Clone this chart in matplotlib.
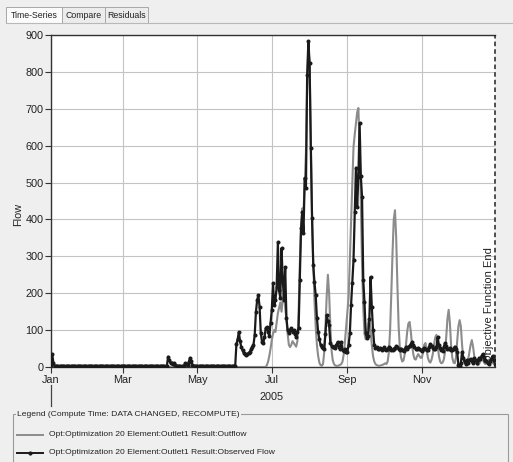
import numpy as np
import pandas as pd
import matplotlib
matplotlib.use("Agg")
import matplotlib.pyplot as plt
import matplotlib.dates as mdates
from matplotlib.patches import Rectangle
from matplotlib.lines import Line2D

plt.rcParams["font.family"] = ["Liberation Sans", "DejaVu Sans"]

dates = pd.date_range("2005-01-01", "2005-12-31", freq="D")

# observed flow, one value per day, month by month
obs_jan = [5, 35, 10, 3, 2, 2, 2, 2, 2, 2, 2, 2, 2, 2, 2, 2, 2, 2, 2, 2, 2, 2, 2, 2, 2, 2, 2, 2, 2, 2, 2]
obs_feb = [2, 2, 2, 2, 2, 2, 2, 2, 2, 2, 2, 2, 2, 2, 2, 2, 2, 2, 2, 2, 2, 2, 2, 2, 2, 2, 2, 2]
obs_mar = [2, 2, 2, 2, 2, 2, 2, 2, 2, 2, 2, 2, 2, 2, 2, 2, 2, 2, 2, 2, 2, 2, 2, 2, 2, 2, 2, 2, 2, 2, 2]
obs_apr = [2, 2, 2, 2, 2, 3, 28, 18, 10, 12, 8, 10, 6, 3, 2, 2, 2, 2, 2, 2, 10, 8, 5, 14, 25, 15, 6, 3, 2, 2]
obs_may = [2, 2, 2, 2, 2, 2, 2, 2, 2, 2, 2, 2, 2, 2, 2, 2, 2, 2, 2, 2, 2, 2, 2, 2, 2, 2, 2, 2, 2, 2, 2]
obs_jun = [2, 62, 75, 95, 70, 54, 45, 38, 36, 33, 35, 38, 41, 48, 54,
           60, 87, 149, 181, 195, 163, 92, 68, 65, 80, 105, 108, 95, 85, 120]
obs_jul = [154, 227, 168, 181, 217, 338, 208, 187, 322, 236, 181, 271, 133, 100, 92, 100,
           105, 95, 100, 90, 81, 95, 105, 236, 376, 420, 363, 512, 485, 791, 883]
obs_aug = [824, 593, 404, 276, 230, 195, 133, 95, 75, 60, 55, 51, 50, 90, 141, 125,
           114, 65, 58, 54, 55, 52, 60, 68, 55, 50, 68, 46, 44, 48, 41]
obs_sep = [41, 60, 92, 168, 228, 290, 420, 540, 434, 515, 661, 518, 461, 236, 176,
           92, 79, 85, 130, 244, 163, 100, 60, 51, 54, 50, 48, 52, 47, 50]
obs_oct = [53, 49, 46, 48, 55, 52, 47, 45, 50, 52, 56, 54, 48, 45, 50, 47,
           44, 48, 53, 50, 55, 58, 62, 68, 60, 55, 50, 48, 52, 50, 46]
obs_nov = [44, 48, 52, 50, 47, 45, 55, 62, 58, 52, 48, 50, 53, 81, 60,
           52, 46, 44, 55, 65, 58, 50, 48, 52, 47, 45, 50, 55, 48, 42]
obs_dec = [5, 3, 10, 41, 25, 15, 8, 19, 12, 18, 22, 15, 10, 24, 20, 12,
           18, 25, 22, 30, 35, 28, 20, 15, 11, 8, 15, 22, 30, 18, 8]

# simulated outflow
out_jan = [0, 0, 0, 0, 0, 0, 0, 0, 0, 0, 0, 0, 0, 0, 0, 0, 0, 0, 0, 0, 0, 0, 0, 0, 0, 0, 0, 0, 0, 0, 0]
out_feb = [0, 0, 0, 0, 0, 0, 0, 0, 0, 0, 0, 0, 0, 0, 0, 0, 0, 0, 0, 0, 0, 0, 0, 0, 0, 0, 0, 0]
out_mar = [0, 0, 0, 0, 0, 0, 0, 0, 0, 0, 0, 0, 0, 0, 0, 0, 0, 0, 0, 0, 0, 0, 0, 0, 0, 0, 0, 0, 0, 0, 0]
out_apr = [0, 0, 0, 0, 0, 0, 0, 0, 0, 0, 0, 0, 0, 0, 0, 0, 0, 0, 0, 0, 0, 0, 0, 0, 0, 0, 0, 0, 0, 0]
out_may = [0, 0, 0, 0, 0, 0, 0, 0, 0, 0, 0, 0, 0, 0, 0, 0, 0, 0, 0, 0, 0, 0, 0, 0, 0, 0, 0, 0, 0, 0, 0]
out_jun = [0, 0, 0, 0, 0, 0, 0, 0, 0, 0, 0, 0, 0, 0, 0,
           0, 0, 0, 0, 0, 0, 0, 0, 0, 0, 0, 5, 15, 30, 50]
out_jul = [73, 90, 100, 95, 120, 146, 160, 175, 150, 185, 200, 160, 130, 90, 60, 54,
           60, 70, 65, 60, 55, 70, 150, 280, 380, 430, 420, 500, 580, 760, 870]
out_aug = [820, 620, 420, 280, 180, 110, 60, 30, 12, 5, 3, 8, 40, 110, 190, 250,
           200, 110, 45, 18, 8, 4, 3, 3, 4, 6, 8, 15, 35, 70, 110]
out_sep = [150, 190, 290, 390, 490, 596, 630, 660, 690, 702, 600, 450, 280, 160, 90,
           75, 90, 120, 130, 100, 60, 30, 15, 8, 5, 4, 3, 4, 5, 6]
out_oct = [8, 10, 8, 15, 40, 100, 200, 310, 400, 425, 350, 220, 110, 50, 25, 15,
           18, 35, 60, 95, 118, 122, 95, 60, 35, 22, 20, 28, 35, 30, 25]
out_nov = [25, 40, 60, 65, 45, 25, 15, 12, 20, 35, 60, 80, 87, 60, 30,
           15, 10, 12, 20, 40, 80, 130, 155, 120, 60, 25, 12, 10, 25, 70]
out_dec = [110, 127, 110, 60, 25, 12, 8, 15, 20, 40, 60, 73, 55, 30, 15, 8,
           5, 8, 15, 25, 20, 12, 8, 10, 15, 20, 18, 12, 10, 15, 20]

observed = (obs_jan + obs_feb + obs_mar + obs_apr + obs_may + obs_jun
            + obs_jul + obs_aug + obs_sep + obs_oct + obs_nov + obs_dec)
outflow = (out_jan + out_feb + out_mar + out_apr + out_may + out_jun
           + out_jul + out_aug + out_sep + out_oct + out_nov + out_dec)

y_ticks = [0, 100, 200, 300, 400, 500, 600, 700, 800, 900]
name_out = "Opt:Optimization 20 Element:Outlet1 Result:Outflow"
name_obs = "Opt:Optimization 20 Element:Outlet1 Result:Observed Flow"
legend_title = "Legend (Compute Time: DATA CHANGED, RECOMPUTE)"

W, H = 513, 462
fig = plt.figure(figsize=(W / 100, H / 100), dpi=100)
fig.patch.set_facecolor("#efefef")

def fx(x):
    return x / W

def fy(y):
    return 1 - y / H

# tab strip
fig.add_artist(Line2D([fx(6), fx(513)], [fy(23), fy(23)], color="#b8b8b8", lw=0.8))
tabs = [("Time-Series", 6, 62, "#fbfbfb"), ("Compare", 62, 105, "#ececec"), ("Residuals", 105, 148, "#ececec")]
for label, x0, x1, fc in tabs:
    fig.add_artist(Rectangle((fx(x0), fy(23)), fx(x1 - x0), (23 - 7) / H,
                             facecolor=fc, edgecolor="#a8a8a8", lw=0.7))
    fig.text(fx((x0 + x1) / 2), fy(15.5), label, ha="center", va="center", fontsize=6.3, color="#222222")

ax = fig.add_axes([fx(51), fy(367), fx(495 - 51), (367 - 35) / H])
ax.set_facecolor("white")

ax.plot(dates, outflow, color="#8c8c8c", lw=1.5, zorder=3)
ax.plot(dates, observed, color="#1a1a1a", lw=1.6, marker="o", markersize=1.9, zorder=4)

ax.set_xlim(pd.Timestamp("2005-01-01"), pd.Timestamp("2005-12-31"))
ax.set_ylim(0, 900)
ax.set_yticks(y_ticks)
ax.xaxis.set_major_locator(mdates.MonthLocator(bymonth=[1, 3, 5, 7, 9, 11]))
ax.xaxis.set_major_formatter(mdates.DateFormatter("%b"))
ax.tick_params(direction="out", length=4, width=0.8, color="#333333", labelsize=7.8,
               labelcolor="#222222", pad=1.5)
ax.grid(True, color="#c4c4c4", lw=0.8)
ax.set_axisbelow(True)
for side in ["left", "bottom", "top"]:
    ax.spines[side].set_color("#333333")
    ax.spines[side].set_linewidth(1.0)
ax.spines["right"].set_visible(False)

ax.axvline(pd.Timestamp("2005-12-31"), color="#222222", lw=1.1, ls=(0, (3, 2)), clip_on=False, zorder=5)
ax.text(0.987, 0.012, "Objective Function End", transform=ax.transAxes, rotation=90,
        ha="center", va="bottom", fontsize=8, color="#222222", zorder=6)

ax.set_ylabel("Flow", fontsize=7.8, color="#222222")
ax.yaxis.set_label_coords(-0.062, 0.46)

fig.text(fx(272), fy(397), "2005", ha="center", va="center", fontsize=7.8, color="#222222")
fig.add_artist(Line2D([fx(51), fx(51)], [fy(385), fy(406)], color="#444444", lw=0.9))

# legend box
fig.add_artist(Rectangle((fx(13), fy(470)), fx(495), (470 - 414) / H,
                         facecolor="none", edgecolor="#9a9a9a", lw=0.8))
fig.text(fx(17), fy(414), legend_title, ha="left", va="center", fontsize=6.1, color="#222222",
         bbox=dict(facecolor="#efefef", edgecolor="none", pad=0.8))
fig.add_artist(Line2D([fx(17), fx(43)], [fy(435), fy(435)], color="#8c8c8c", lw=1.4))
fig.add_artist(Line2D([fx(17), fx(43)], [fy(453), fy(453)], color="#1a1a1a", lw=1.4))
fig.add_artist(Line2D([fx(30)], [fy(453)], color="#1a1a1a", marker="o", markersize=2))
fig.text(fx(49), fy(435), name_out, ha="left", va="center", fontsize=6.1, color="#222222")
fig.text(fx(49), fy(453), name_obs, ha="left", va="center", fontsize=6.1, color="#222222")

fig.savefig("out.png", dpi=100, facecolor=fig.get_facecolor())
